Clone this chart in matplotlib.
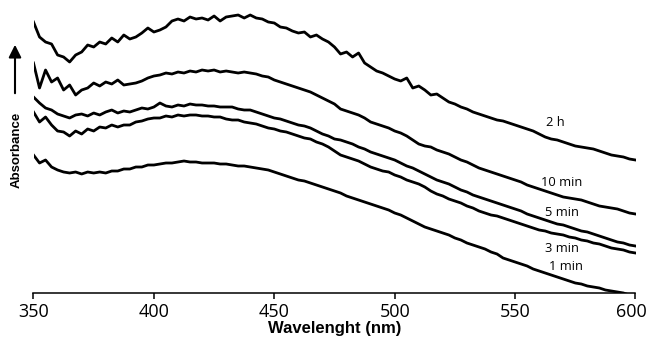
import numpy as np
import matplotlib
matplotlib.use("Agg")
from matplotlib import pyplot as plt
from matplotlib import transforms

# wavelength grid (nm), 2.5 nm steps
wavelength = np.arange(350, 600.1, 2.5)

# absorbance, arbitrary units
abs_2h = [271, 256, 251, 249, 238, 236, 231, 238, 241, 248,
          246, 251, 249, 255, 251, 258, 254, 256, 260, 265,
          261, 263, 266, 272, 274, 272, 276, 274, 275, 273,
          277, 272, 276, 277, 278, 275, 278, 275, 274, 271,
          270, 266, 265, 262, 260, 261, 256, 258, 254, 251,
          246, 239, 241, 236, 240, 230, 226, 222, 220, 217,
          214, 212, 215, 205, 207, 203, 198, 199, 195, 191,
          189, 186, 184, 181, 179, 177, 175, 173, 172, 170,
          168, 166, 164, 162, 159, 156, 154, 153, 151, 149,
          147, 146, 145, 144, 142, 140, 138, 137, 136, 134,
          133]

abs_10min = [230, 205, 223, 211, 215, 203, 208, 198, 203, 205,
             210, 207, 211, 209, 213, 208, 209, 210, 212, 215,
             217, 218, 220, 219, 221, 220, 222, 221, 223, 222,
             223, 221, 222, 221, 220, 221, 220, 219, 217, 216,
             213, 211, 209, 207, 205, 203, 201, 198, 195, 192,
             189, 184, 182, 180, 178, 175, 171, 169, 167, 165,
             162, 160, 157, 153, 149, 147, 146, 143, 141, 139,
             136, 133, 131, 128, 125, 123, 121, 119, 117, 115,
             113, 111, 108, 106, 104, 102, 100, 98, 96, 95,
             94, 93, 91, 89, 87, 86, 85, 84, 82, 80,
             79]

abs_5min = [196, 190, 185, 183, 179, 177, 175, 178, 179, 177,
            180, 178, 181, 183, 180, 182, 181, 183, 185, 184,
            186, 190, 187, 186, 188, 187, 189, 188, 188, 187,
            187, 186, 186, 186, 184, 183, 183, 181, 179, 177,
            175, 174, 172, 170, 168, 167, 165, 162, 159, 157,
            154, 153, 151, 149, 146, 144, 141, 139, 137, 135,
            133, 130, 127, 125, 122, 119, 116, 113, 111, 109,
            106, 103, 101, 98, 96, 94, 92, 90, 88, 86,
            84, 82, 79, 77, 75, 73, 71, 69, 68, 66,
            64, 62, 61, 59, 57, 55, 53, 51, 50, 48,
            47]

abs_3min = [181, 171, 176, 168, 162, 161, 157, 162, 159, 164,
            162, 166, 165, 168, 166, 168, 168, 171, 172, 174,
            175, 175, 177, 176, 178, 177, 178, 178, 177, 177,
            176, 176, 174, 173, 173, 171, 170, 169, 167, 165,
            164, 162, 161, 159, 157, 155, 154, 151, 149, 146,
            142, 138, 136, 134, 132, 129, 126, 124, 122, 121,
            118, 116, 113, 111, 109, 106, 102, 99, 97, 94,
            92, 90, 87, 85, 82, 80, 78, 77, 75, 73,
            71, 69, 67, 65, 63, 62, 60, 59, 58, 56,
            55, 53, 52, 50, 49, 47, 45, 44, 43, 41,
            40]

abs_1min = [138, 130, 133, 126, 123, 121, 120, 121, 119, 121,
            120, 121, 120, 122, 122, 124, 124, 126, 126, 128,
            128, 129, 130, 130, 131, 132, 131, 131, 130, 130,
            130, 129, 129, 128, 127, 127, 126, 125, 124, 123,
            121, 119, 117, 115, 113, 112, 110, 108, 106, 104,
            102, 100, 97, 95, 93, 91, 89, 87, 85, 83,
            80, 78, 75, 72, 69, 66, 64, 62, 60, 58,
            55, 53, 50, 48, 46, 44, 41, 39, 35, 33,
            31, 29, 27, 24, 22, 20, 18, 16, 14, 12,
            10, 9, 7, 6, 5, 3, 2, 1, 0, -2,
            -4]

series = [abs_2h, abs_10min, abs_5min, abs_3min, abs_1min]
labels = ["2 h", "10 min", "5 min", "3 min", "1 min"]
label_x = [566.5, 569.5, 569.5, 569.5, 571]
label_y = [170, 111, 81, 44, 27]

fig = plt.figure(figsize=(6.49, 3.40), dpi=100)
ax = fig.add_axes([33.5 / 649, 47 / 340, 602 / 649, 285 / 340])

for s in series:
    ax.plot(wavelength, s, color="black", linewidth=2.0, solid_joinstyle="round")

for lab, lx, ly in zip(labels, label_x, label_y):
    ax.text(lx, ly, lab, fontsize=9.3, family="Open Sans", ha="center", va="center")

ax.set_xlim(350, 600)
ax.set_ylim(0, 285)
ax.set_xticks([350, 400, 450, 500, 550, 600])
ax.set_yticks([])
for side in ["left", "right", "top"]:
    ax.spines[side].set_visible(False)
ax.spines["bottom"].set_linewidth(1.1)
ax.tick_params(axis="x", direction="out", length=4, width=1.1, pad=3)
for t in ax.get_xticklabels():
    t.set_fontfamily("Open Sans")
    t.set_fontsize(13)
# pull the last tick label in so it stays inside the picture
last = ax.get_xticklabels()[-1]
last.set_transform(last.get_transform() +
                   transforms.ScaledTranslation(-4 / 100, 0, fig.dpi_scale_trans))

ax.set_xlabel("Wavelenght (nm)", fontsize=12, fontweight="bold",
              family="Liberation Sans", labelpad=0)

fig.text(17 / 649, 1 - 150 / 340, "Absorbance", rotation=90, fontsize=9.5,
         fontweight="bold", family="Liberation Sans", ha="center", va="center")
fig.patches.append(matplotlib.patches.FancyArrowPatch(
    (15 / 649, 1 - 96 / 340), (15 / 649, 1 - 42 / 340),
    transform=fig.transFigure, arrowstyle="-|>,head_length=5,head_width=2.5",
    color="black", linewidth=1.5, mutation_scale=1.5))

fig.savefig("out.png", dpi=100)
